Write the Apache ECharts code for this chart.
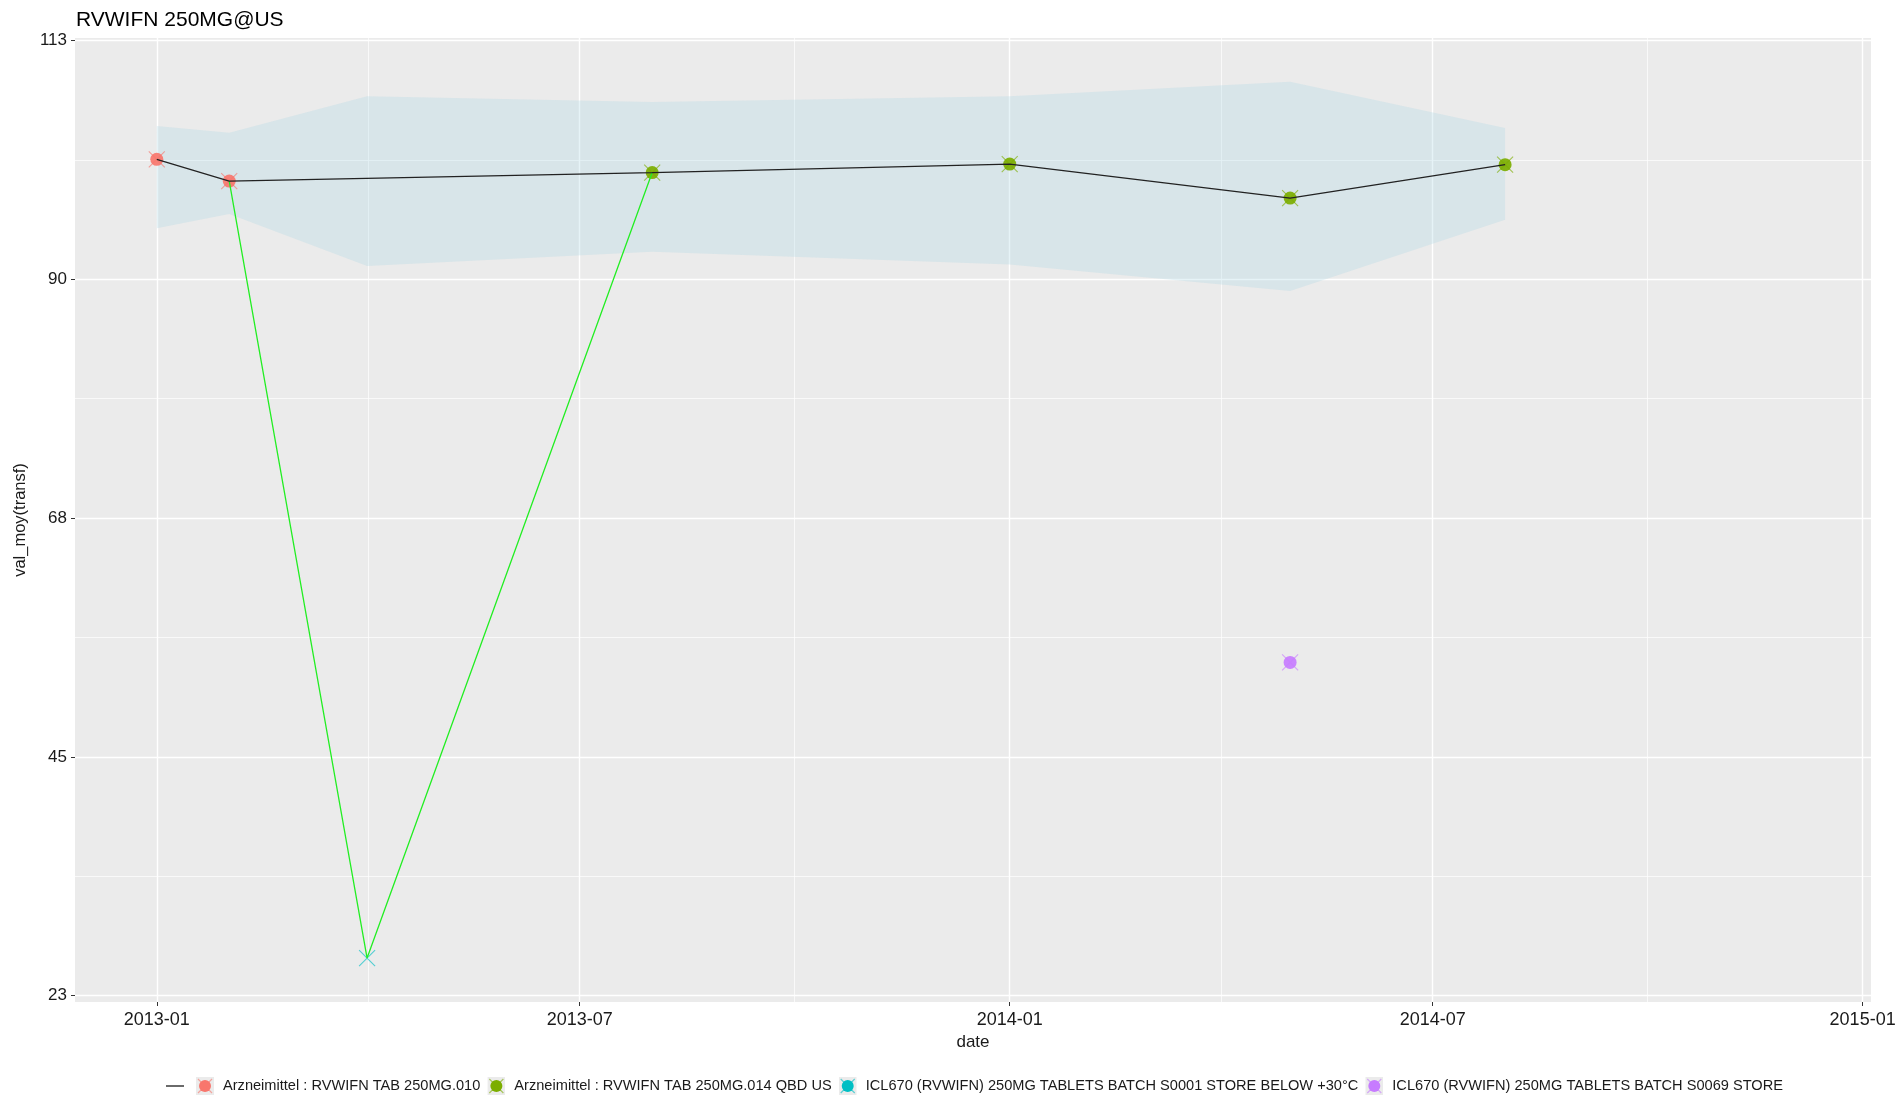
<!DOCTYPE html>
<html>
<head>
<meta charset="utf-8">
<title>RVWIFN 250MG@US</title>
<script src="https://cdn.jsdelivr.net/npm/echarts@6/dist/echarts.min.js"></script>
<style>
  html, body { margin: 0; padding: 0; background: #ffffff; }
  #chart { width: 1901px; height: 1097px; }
</style>
</head>
<body>
<div id="chart"></div>
<script>
// ---- chart text ----
const chartTitle = 'RVWIFN 250MG@US';
const xAxisTitle = 'date';
const yAxisTitle = 'val_moy(transf)';
const trendName = '\u200B';          // unlabelled key for the mean line
const linkName = 'S0001 link';
const batchNames = [
  'Arzneimittel : RVWIFN TAB 250MG.010',
  'Arzneimittel : RVWIFN TAB 250MG.014 QBD US',
  'ICL670 (RVWIFN) 250MG TABLETS BATCH S0001 STORE BELOW +30°C',
  'ICL670 (RVWIFN) 250MG TABLETS BATCH S0069 STORE'
];
const batchColors = ['#F8766D', '#7CAE00', '#00BFC4', '#C77CFF'];

// ---- measurements per batch ----
const batch010Dates = ['2013-01-01', '2013-02-01'];
const batch010Values = [101.8, 99.75];
const batch014Dates = ['2013-08-01', '2014-01-01', '2014-05-01', '2014-08-01'];
const batch014Values = [100.55, 101.35, 98.15, 101.3];
const batchS0001Dates = ['2013-04-01'];
const batchS0001Values = [26.55];
const batchS0069Dates = ['2014-05-01'];
const batchS0069Values = [54.4];
// which batches get the round marker on top of the cross
const batchHasDot = [true, true, false, true];

// ---- mean line ----
const trendDates = ['2013-01-01', '2013-02-01', '2013-08-01', '2014-01-01', '2014-05-01', '2014-08-01'];
const trendValues = [101.8, 99.75, 100.55, 101.35, 98.15, 101.3];

// ---- S0001 path ----
const linkDates = ['2013-02-01', '2013-04-01', '2013-08-01'];
const linkValues = [99.75, 26.55, 100.55];

// ---- tolerance band ----
const bandDates = ['2013-01-01', '2013-02-01', '2013-04-01', '2013-08-01', '2014-01-01', '2014-05-01', '2014-08-01'];
const bandUpper = [104.95, 104.3, 107.75, 107.2, 107.75, 109.1, 104.75];
const bandLower = [95.3, 96.65, 91.75, 93.1, 91.9, 89.4, 96.1];

// ---- axes ----
const yMin = 22.41, yMax = 113.23;
const yTickValues = [23, 45.5, 68, 90.5, 113];
const yTickLabels = ['23', '45', '68', '90', '113'];
const yMinorValues = [34.25, 56.75, 79.25, 101.75];
const xMinDate = '2012-11-27', xMaxDate = '2015-01-04 14:00';
const xTickDates = ['2013-01-01', '2013-07-01', '2014-01-01', '2014-07-01', '2015-01-01'];
const xMinorDates = ['2013-04-01 12:00', '2013-10-01', '2014-04-01 12:00', '2014-10-01'];

// ---- helpers ----
const FONT = "'Liberation Sans', Arial, sans-serif";
const TEXT = '#1a1a1a';
function ts(s) {
  const [d, t = '00:00'] = s.split(' ');
  const [y, m, dd] = d.split('-').map(Number);
  const [hh, mm] = t.split(':').map(Number);
  return Date.UTC(y, m - 1, dd, hh, mm);
}
function pairs(dates, values) { return dates.map((d, i) => [ts(d), values[i]]); }
function monthLabel(v) {
  const d = new Date(v);
  return d.getUTCFullYear() + '-' + String(d.getUTCMonth() + 1).padStart(2, '0');
}
function svgIcon(inner) {
  const svg = "<svg xmlns='http://www.w3.org/2000/svg' width='18' height='18' viewBox='0 0 18 18'>" + inner + "</svg>";
  return 'image://data:image/svg+xml;charset=utf-8,' + encodeURIComponent(svg);
}
function batchIcon(color) {
  return svgIcon("<rect width='18' height='18' fill='#ebebeb'/>" +
    "<circle cx='9' cy='9' r='6' fill='" + color + "'/>" +
    "<path d='M2 2L16 16M16 2L2 16' stroke='" + color + "' stroke-opacity='0.6' stroke-width='1.2'/>");
}
const lineIcon = svgIcon("<path d='M0 9H18' stroke='#1a1a1a' stroke-width='1.3'/>");

const batchDates = [batch010Dates, batch014Dates, batchS0001Dates, batchS0069Dates];
const batchValues = [batch010Values, batch014Values, batchS0001Values, batchS0069Values];

// ---- series ----
const series = [];

// tolerance band drawn as one polygon through the axis scales
series.push({
  type: 'custom',
  name: 'band',
  silent: true,
  z: 1,
  data: bandDates.map((d, i) => [ts(d), bandLower[i], bandUpper[i]]),
  renderItem(params, api) {
    if (params.dataIndex !== 0) return null;
    const upper = bandDates.map((d, i) => api.coord([ts(d), bandUpper[i]]));
    const lower = bandDates.map((d, i) => api.coord([ts(d), bandLower[i]])).reverse();
    return {
      type: 'polygon',
      shape: { points: upper.concat(lower) },
      style: { fill: 'rgba(173,216,230,0.3)', stroke: 'none' }
    };
  }
});

// dots where flagged, crosses for every measurement
batchNames.forEach((name, k) => {
  const data = pairs(batchDates[k], batchValues[k]);
  if (batchHasDot[k]) {
    series.push({
      type: 'scatter',
      name: name,
      z: 3,
      silent: true,
      symbol: 'circle',
      symbolSize: 13,
      itemStyle: { color: batchColors[k], opacity: 0.92 },
      data: data
    });
  }
  series.push({
    type: 'scatter',
    name: name,
    z: 4,
    silent: true,
    symbol: 'path://M0,0L10,10M10,0L0,10',
    symbolSize: 16,
    itemStyle: { color: 'none', borderColor: batchColors[k], borderWidth: 1.1, opacity: 0.65 },
    data: data
  });
});

// S0001 path
series.push({
  type: 'line',
  name: linkName,
  z: 5,
  silent: true,
  symbol: 'none',
  lineStyle: { color: '#22ee22', width: 1.3 },
  data: pairs(linkDates, linkValues)
});

// mean line
series.push({
  type: 'line',
  name: trendName,
  z: 6,
  silent: true,
  symbol: 'none',
  lineStyle: { color: '#222222', width: 1.25 },
  data: pairs(trendDates, trendValues)
});

const option = {
  animation: false,
  backgroundColor: '#ffffff',
  title: {
    text: chartTitle,
    left: 76,
    top: 9.5,
    padding: 0,
    textStyle: { fontFamily: FONT, fontSize: 21, fontWeight: 'normal', color: '#000000' }
  },
  grid: {
    left: 75, right: 30, top: 38, bottom: 95,
    show: true, backgroundColor: '#EBEBEB', borderWidth: 0,
    containLabel: false, outerBoundsMode: 'none'
  },
  legend: {
    left: 166,
    top: 1077,
    padding: 0,
    itemGap: 7,
    itemWidth: 18,
    itemHeight: 18,
    selectedMode: false,
    textStyle: { fontFamily: FONT, fontSize: 14.6, color: TEXT, padding: [0, 0, 0, 4] },
    data: [{ name: trendName, icon: lineIcon, itemStyle: { opacity: 1 }, textStyle: { padding: 0 } }].concat(
      batchNames.map((n, k) => ({
        name: n,
        icon: batchIcon(batchColors[k]),
        itemStyle: { opacity: 1 },
        textStyle: { padding: k === 2 ? [0, 11, 0, 4] : [0, 0, 0, 4] }
      }))
    )
  },
  xAxis: [{
    type: 'value',
    min: ts(xMinDate),
    max: ts(xMaxDate),
    axisLine: { show: false },
    axisTick: { show: true, length: 4, lineStyle: { color: '#333333', width: 1 }, customValues: xTickDates.map(ts) },
    axisLabel: {
      customValues: xTickDates.map(ts),
      formatter: monthLabel,
      margin: 9,
      fontFamily: FONT, fontSize: 18, color: TEXT,
      hideOverlap: false, showMinLabel: true, showMaxLabel: true
    },
    splitLine: { show: true, lineStyle: { color: '#ffffff', width: 1.4 } },
    name: xAxisTitle,
    nameLocation: 'middle',
    nameGap: 30,
    nameTextStyle: { fontFamily: FONT, fontSize: 17, color: TEXT }
  }, {
    type: 'value',
    position: 'bottom',
    min: ts(xMinDate),
    max: ts(xMaxDate),
    axisLine: { show: false },
    axisTick: { show: false, customValues: xMinorDates.map(ts) },
    axisLabel: { show: false },
    splitLine: { show: true, lineStyle: { color: '#ffffff', width: 0.7 } }
  }],
  yAxis: [{
    type: 'value',
    min: yMin,
    max: yMax,
    axisLine: { show: false },
    axisTick: { show: true, length: 4, lineStyle: { color: '#333333', width: 1 }, customValues: yTickValues },
    axisLabel: {
      customValues: yTickValues,
      formatter: v => { const i = yTickValues.indexOf(v); return i >= 0 ? yTickLabels[i] : String(v); },
      margin: 8,
      fontFamily: FONT, fontSize: 17, color: TEXT
    },
    splitLine: { show: true, lineStyle: { color: '#ffffff', width: 1.4 } },
    name: yAxisTitle,
    nameLocation: 'middle',
    nameGap: 46,
    nameTextStyle: { fontFamily: FONT, fontSize: 16.5, color: TEXT }
  }, {
    type: 'value',
    position: 'left',
    min: yMin,
    max: yMax,
    axisLine: { show: false },
    axisTick: { show: false, customValues: yMinorValues },
    axisLabel: { show: false },
    splitLine: { show: true, lineStyle: { color: '#ffffff', width: 0.7 } }
  }],
  series: series
};

const chart = echarts.init(document.getElementById('chart'), null, { renderer: 'canvas' });
chart.setOption(option);
</script>
</body>
</html>
